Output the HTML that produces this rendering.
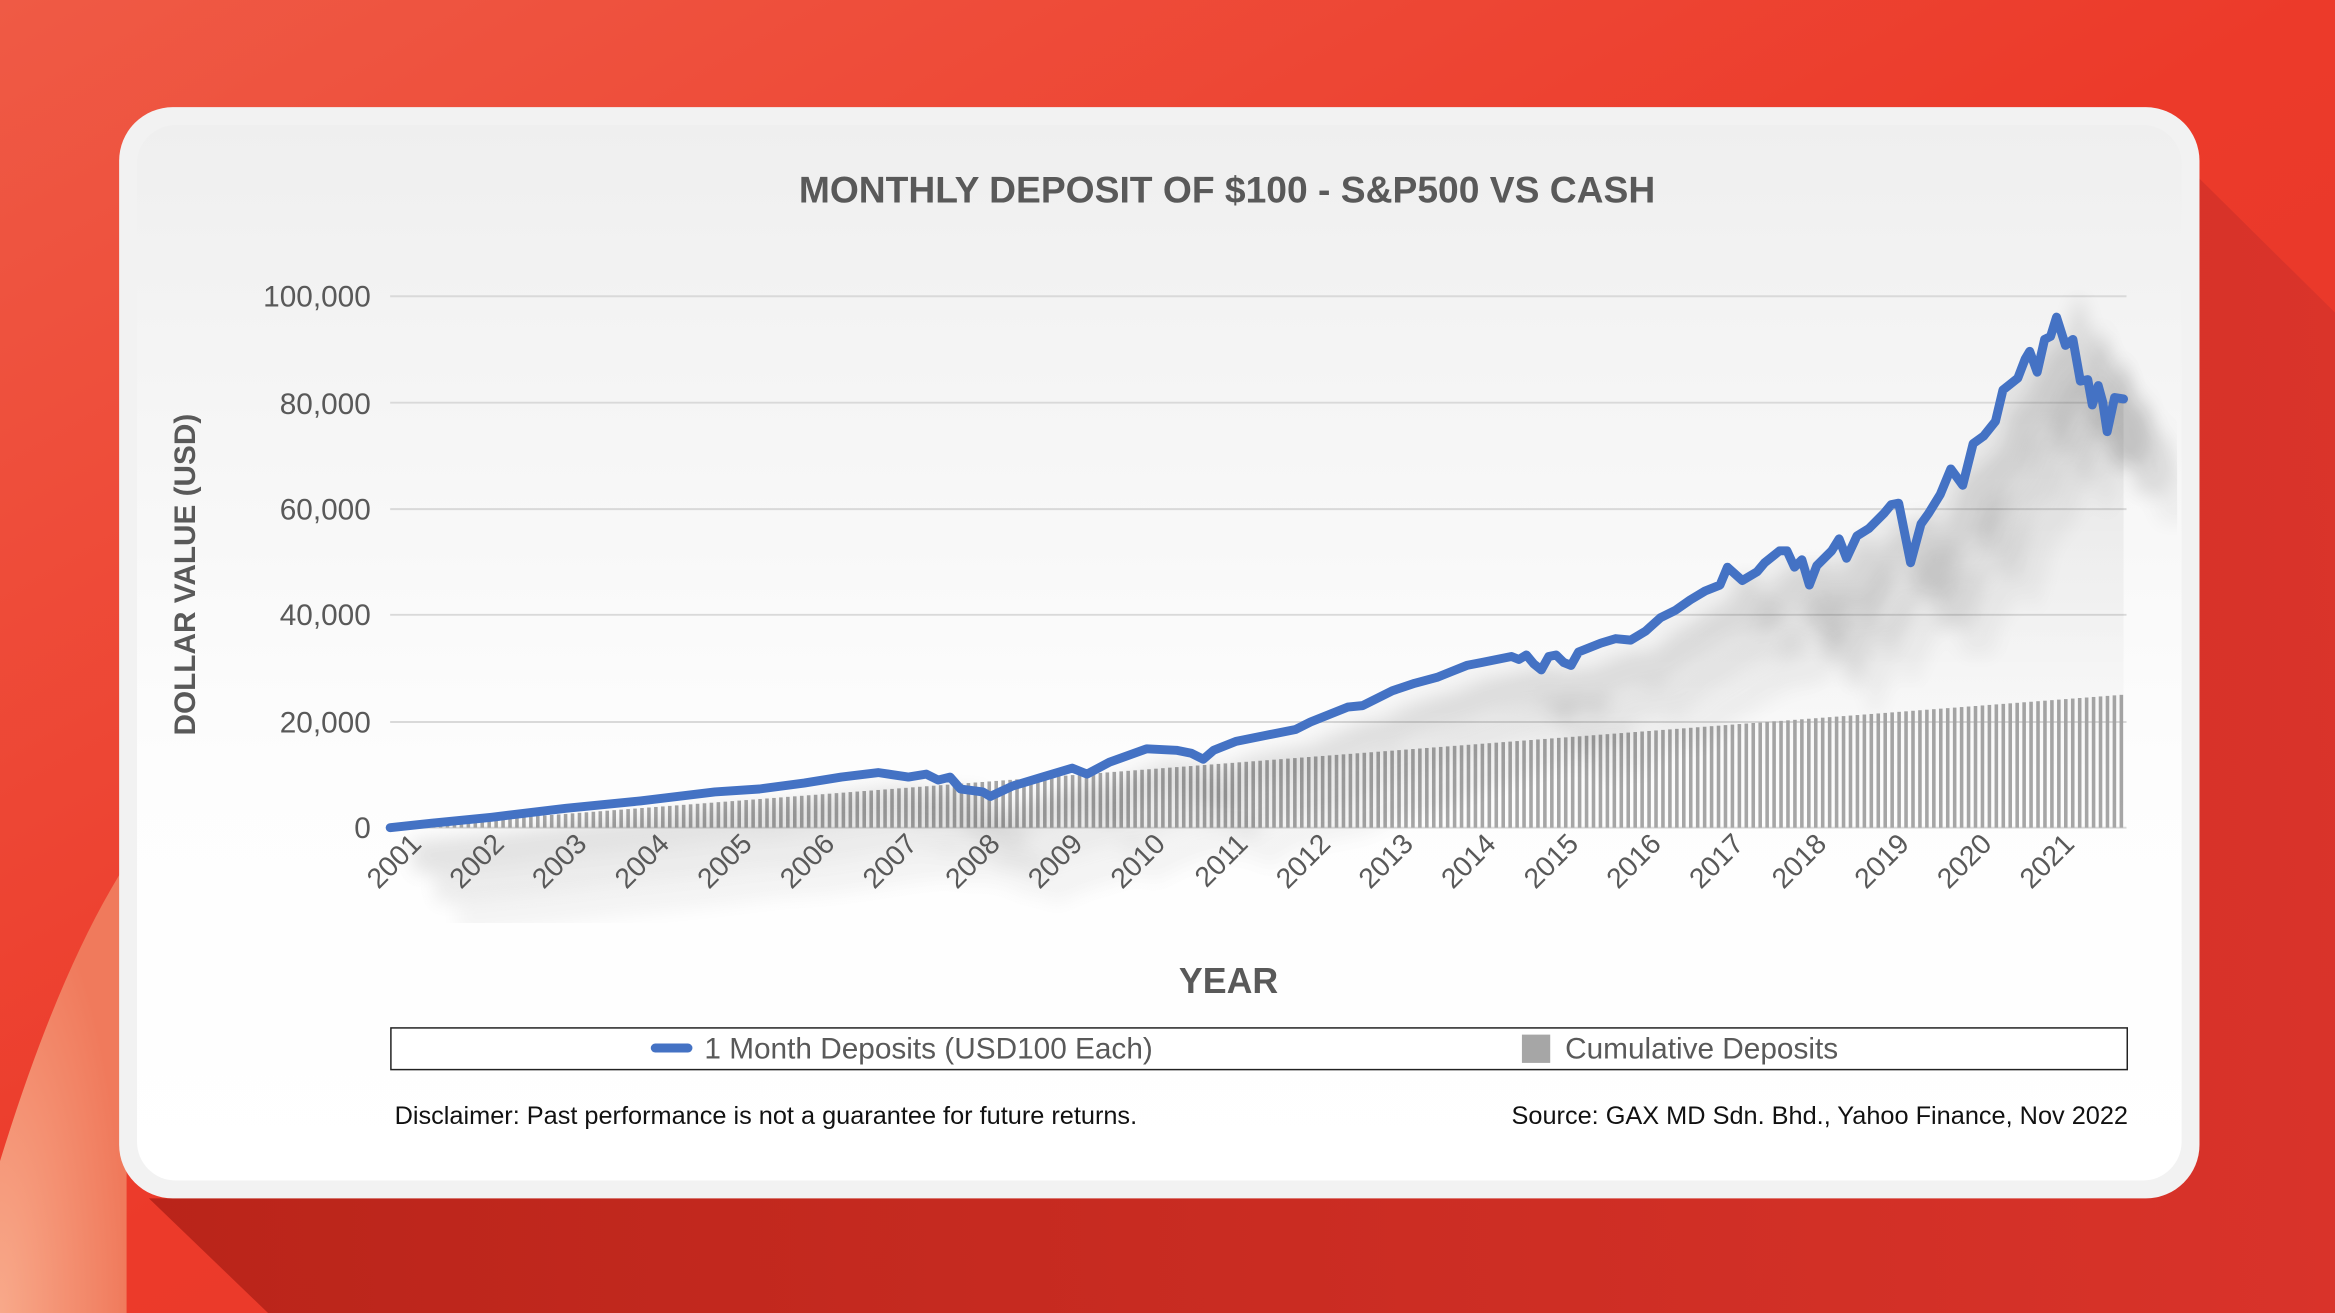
<!DOCTYPE html>
<html><head><meta charset="utf-8"><style>
html,body{margin:0;padding:0;width:2335px;height:1313px;overflow:hidden;background:#e8392a}
svg{display:block}
text{font-family:"Liberation Sans","DejaVu Sans",sans-serif}
</style></head><body>
<svg id="s" width="2335" height="1313" viewBox="0 0 1568 882" preserveAspectRatio="none" xmlns="http://www.w3.org/2000/svg">
<defs>
<linearGradient id="bg" x1="0" y1="0" x2="1" y2="1">
<stop offset="0" stop-color="#ef5a45"/><stop offset="0.5" stop-color="#ec3a2a"/><stop offset="1" stop-color="#e2352a"/>
</linearGradient>
<radialGradient id="orb" cx="0" cy="1" r="1">
<stop offset="0" stop-color="#f8a98a"/><stop offset="1" stop-color="#f07a5c"/>
</radialGradient>
<linearGradient id="sh" x1="0" y1="0" x2="1" y2="0">
<stop offset="0" stop-color="#b42218"/><stop offset="1" stop-color="#d8332a"/>
</linearGradient>
<linearGradient id="panel" x1="0" y1="0" x2="0" y2="1">
<stop offset="0" stop-color="#efefef"/><stop offset="0.6" stop-color="#fdfdfd"/><stop offset="1" stop-color="#ffffff"/>
</linearGradient>
<linearGradient id="under" x1="0" y1="0" x2="0" y2="1">
<stop offset="0" stop-color="#000" stop-opacity="0.16"/><stop offset="1" stop-color="#000" stop-opacity="0"/>
</linearGradient>
<filter id="blur" x="-0.2" y="-0.2" width="1.4" height="1.4"><feGaussianBlur stdDeviation="6"/></filter>
<clipPath id="cp"><rect x="262" y="180" width="1200" height="440"/></clipPath>
</defs>
<rect width="1568" height="882" fill="url(#bg)"/>
<path d="M0,882 L0,780 Q40,650 85,580 L85,882 Z" fill="url(#orb)"/>
<polygon points="1200,805 1477,120 1568,210 1568,882 180,882 100,805" fill="url(#sh)" opacity="0.9"/>
<rect x="80" y="72" width="1397" height="733" rx="36" fill="#f2f2f2"/>
<rect x="92" y="84" width="1373" height="709" rx="26" fill="url(#panel)"/>
<text x="824" y="136" text-anchor="middle" font-size="25" font-weight="bold" fill="#595959">MONTHLY DEPOSIT OF $100 - S&amp;P500 VS CASH</text>
<g stroke="#d9d9d9" stroke-width="1.3">
<line x1="262" y1="199" x2="1428" y2="199"/><line x1="262" y1="270.5" x2="1428" y2="270.5"/>
<line x1="262" y1="342" x2="1428" y2="342"/><line x1="262" y1="413" x2="1428" y2="413"/>
<line x1="262" y1="485" x2="1428" y2="485"/><line x1="262" y1="556" x2="1428" y2="556"/>
</g>
<g font-size="20" fill="#595959" text-anchor="end">
<text x="249" y="206">100,000</text><text x="249" y="278">80,000</text><text x="249" y="349">60,000</text>
<text x="249" y="420">40,000</text><text x="249" y="492">20,000</text><text x="249" y="563">0</text>
</g>
<text transform="translate(131,386) rotate(-90)" text-anchor="middle" font-size="20" font-weight="bold" fill="#595959">DOLLAR VALUE (USD)</text>
<g id="bars" fill="#a6a6a6"></g>
<g id="shadow" clip-path="url(#cp)"></g>
<path id="line" fill="none" stroke="#4472c4" stroke-width="6" stroke-linejoin="round" stroke-linecap="round"/>
<g id="years" font-size="19" fill="#595959"></g>
<text x="825" y="667" text-anchor="middle" font-size="24" font-weight="bold" fill="#595959">YEAR</text>
<rect x="262.5" y="690.5" width="1166" height="28" fill="#fff" stroke="#222" stroke-width="1"/>
<line x1="440" y1="704" x2="462" y2="704" stroke="#4472c4" stroke-width="6" stroke-linecap="round"/>
<text x="473" y="711" font-size="20" fill="#595959">1 Month Deposits (USD100 Each)</text>
<rect x="1022" y="695" width="19" height="19" fill="#a6a6a6"/>
<text x="1051" y="711" font-size="20" fill="#595959">Cumulative Deposits</text>
<text x="265" y="755" font-size="17" fill="#111">Disclaimer: Past performance is not a guarantee for future returns.</text>
<text x="1429" y="755" font-size="17" fill="#111" text-anchor="end">Source: GAX MD Sdn. Bhd., Yahoo Finance, Nov 2022</text>
</svg>
<script>
var NS="http://www.w3.org/2000/svg";
var pts=[[262,556],[290,553],[330,549],[380,543],[430,538],[480,532],[510,530],[540,526],[565,522],[590,519],[610,522],[622,520],[630,524],[638,522],[645,530],[660,532],[665,535],[680,528],[700,522],[720,516],[730,520],[745,512],[770,503],[790,504],[800,506],[808,510],[815,504],[830,498],[840,496],[850,494],[870,490],[880,485],[905,475],[915,474],[935,464],[950,459],[965,455],[975,451],[985,447],[995,445],[1005,443],[1015,441],[1020,443],[1025,440],[1030,446],[1035,450],[1040,441],[1045,440],[1050,445],[1055,447],[1060,438],[1075,432],[1085,429],[1095,430],[1105,424],[1115,415],[1125,410],[1135,403],[1145,397],[1155,393],[1160,381],[1170,390],[1180,384],[1185,378],[1195,370],[1200,370],[1205,381],[1210,376],[1215,393],[1220,380],[1230,370],[1235,362],[1240,375],[1247,360],[1255,355],[1265,345],[1270,339],[1275,338],[1283,378],[1290,352],[1295,345],[1303,332],[1310,315],[1318,326],[1325,298],[1332,293],[1340,283],[1345,262],[1355,254],[1360,241],[1363,236],[1368,250],[1373,228],[1377,226],[1381,213],[1387,232],[1392,228],[1397,256],[1402,255],[1405,272],[1409,259],[1412,270],[1415,290],[1420,267],[1426,268]];
var d="M"+pts.map(function(p){return p[0]+","+p[1]}).join(" L");
document.getElementById("line").setAttribute("d",d);
var sh=document.getElementById("shadow");
var a=document.createElementNS(NS,"path");
a.setAttribute("d",d+" L1426,556 L262,556 Z");a.setAttribute("fill","url(#under)");a.setAttribute("opacity","0.5");sh.appendChild(a);
[[15,20,0.10],[30,40,0.07],[45,60,0.04]].forEach(function(o){
var s2=document.createElementNS(NS,"path");
s2.setAttribute("d",d);s2.setAttribute("transform","translate("+o[0]+","+o[1]+")");
s2.setAttribute("fill","none");s2.setAttribute("stroke","#000");s2.setAttribute("stroke-width","22");
s2.setAttribute("opacity",o[2]);s2.setAttribute("filter","url(#blur)");sh.appendChild(s2);
});
var bars=document.getElementById("bars");
var n=250;
for(var i=0;i<n;i++){
 var x=262+i*(1166/n);var v=100*(i+1);var y=556-v*(357/100000);
 var r=document.createElementNS(NS,"rect");
 r.setAttribute("x",x.toFixed(2));r.setAttribute("y",y.toFixed(2));
 r.setAttribute("width","2.4");r.setAttribute("height",(556-y).toFixed(2));bars.appendChild(r);
}
var yr=document.getElementById("years");
for(var k=0;k<21;k++){
 var t=document.createElementNS(NS,"text");
 var cx=262+k*55.5+22,cy=568;
 t.setAttribute("transform","translate("+cx+","+cy+") rotate(-45)");
 t.setAttribute("text-anchor","end");t.textContent=2001+k;yr.appendChild(t);
}
</script>
</body></html>
